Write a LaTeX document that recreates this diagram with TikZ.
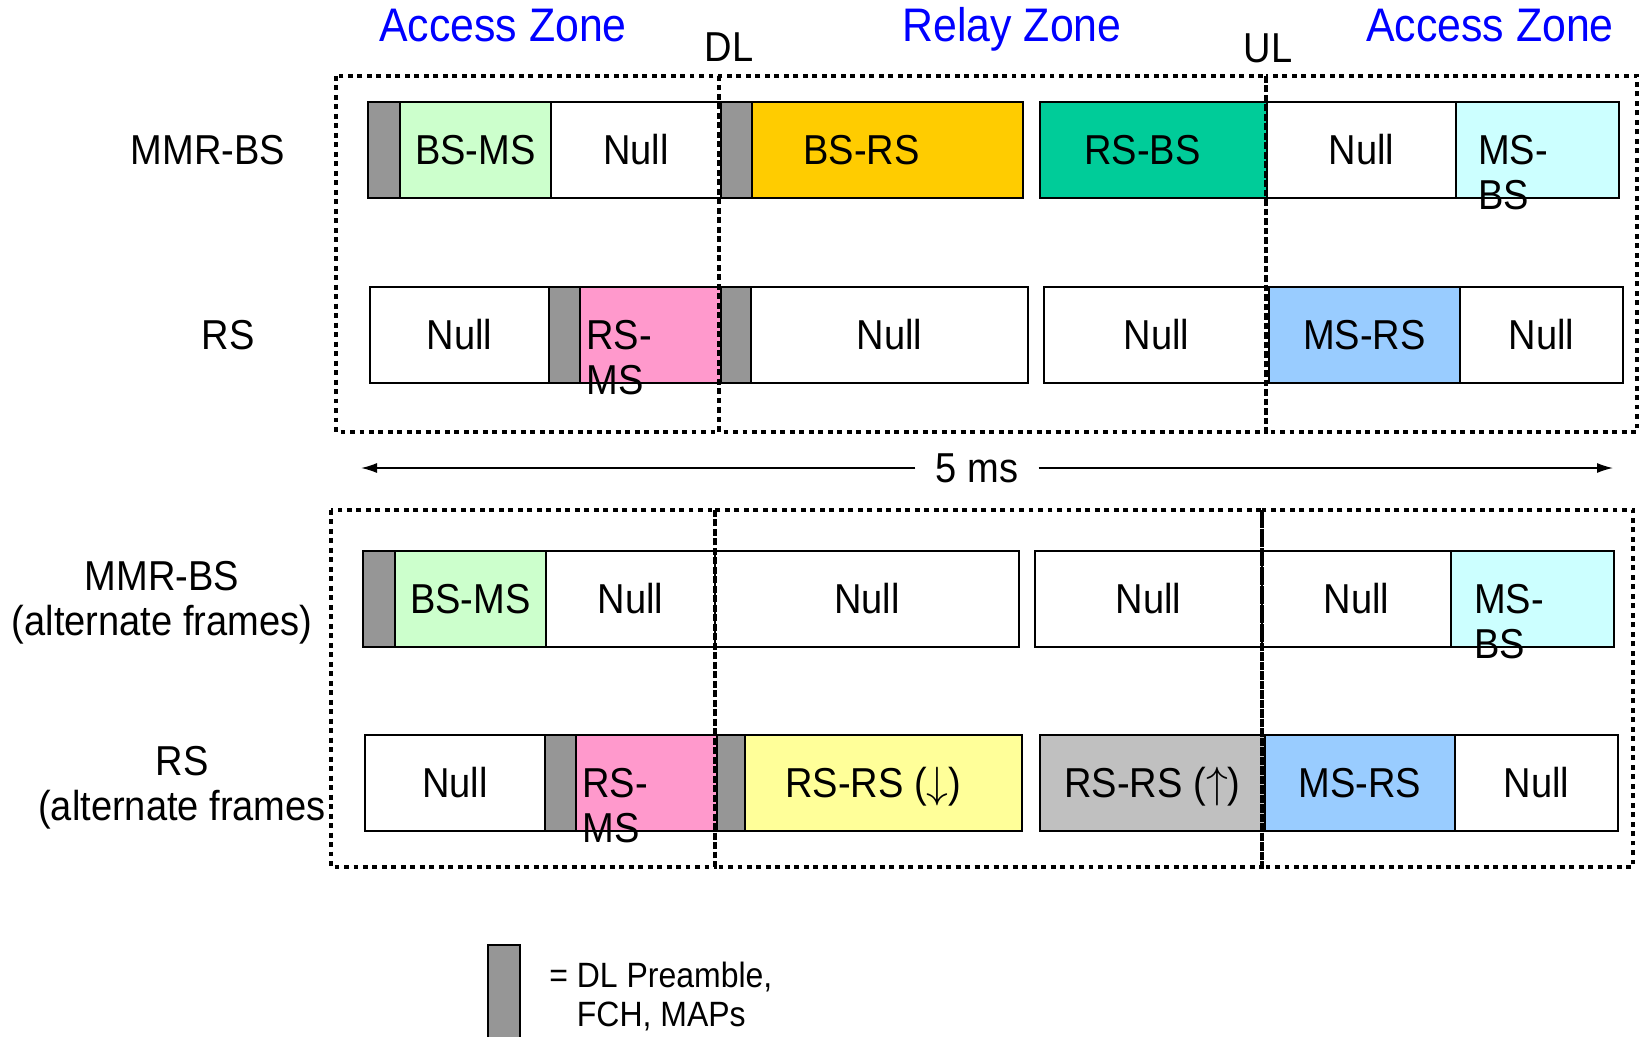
\documentclass[tikz,border=0pt]{standalone}
\usepackage{fontspec}
\setmainfont{Liberation Sans}[FakeStretch=0.91]
\usetikzlibrary{positioning, arrows.meta}
\definecolor{preamb}{RGB}{150,150,150}
\definecolor{bsms}{RGB}{204,255,204}
\definecolor{bsrs}{RGB}{255,204,0}
\definecolor{rsbs}{RGB}{0,204,153}
\definecolor{msbs}{RGB}{204,255,255}
\definecolor{rsms}{RGB}{255,153,204}
\definecolor{msrs}{RGB}{153,204,255}
\definecolor{rsdown}{RGB}{255,255,153}
\definecolor{rsup}{RGB}{192,192,192}
\newcommand{\framefont}{\fontsize{23.8}{25.5}\selectfont}
\newcommand{\titlefont}{\fontsize{26.8}{30}\selectfont}
\newcommand{\keyfont}{\fontsize{20}{22}\selectfont}
\tikzset{
  slot/.style={draw, line width=0.8pt, inner sep=0pt, outer sep=0pt, minimum height=1.92cm, anchor=north west},
  pre/.style={slot, fill=preamb, minimum width=#1},
  split/.style={align=left, inner sep=0pt, anchor=north west},
  zone/.style={line width=2.8pt, dash pattern=on 2.8pt off 2.6pt},
  zonetitle/.style={text=blue, font=\titlefont, anchor=base},
  dir/.style={anchor=base}
}

\begin{document}
\begin{tikzpicture}[x=0.02cm, y=-0.02cm, every node/.style={font=\framefont}]
\useasboundingbox (0,0) rectangle (1639,1037);

% zone titles
\node[zonetitle] (acc1) at (503,42) {Access Zone};
\node[zonetitle] (relay) at (1012,42) {Relay Zone};
\node[zonetitle] (acc2) at (1490,42) {Access Zone};
\node[dir] (dl) at (729,62) {DL};
\node[dir] (ul) at (1268,63) {UL};

% row labels
\node (lbl1) at (208,150) {MMR-BS};
\node (lbl2) at (228,335) {RS};
\node[align=center] (lbl3) at (162,603) {MMR-BS\\(alternate frames)};
\node[align=center] (lbl4) at (182,788) {RS\\(alternate frames};

% MMR-BS
\node[pre=0.64cm] (p1) at (368,102) {};
\node[slot, fill=bsms, minimum width=3.02cm, right=0pt of p1] (bsms1) {BS-MS};
\node[slot, minimum width=3.40cm, right=0pt of bsms1] (null1) {Null};
\node[pre=0.62cm, right=0pt of null1] (p2) {};
\node[slot, fill=bsrs, minimum width=5.42cm, right=0pt of p2,
      label={[name=bsrstxt, xshift=-0.52cm]center:BS-RS}] (bsrs) {};
\node[slot, fill=rsbs, minimum width=4.54cm,
      label={[name=rsbstxt, xshift=-0.22cm]center:RS-BS}] (rsbs) at (1040,102) {};
\node[slot, minimum width=3.78cm, right=0pt of rsbs] (null2) {Null};
\node[slot, fill=msbs, minimum width=3.26cm, right=0pt of null2] (msbs1) {};
\node[split] (msbs1txt) at ([xshift=0.44cm, yshift=0.3cm]msbs1.west) {MS-\\BS};

% RS
\node[slot, minimum width=3.58cm] (null3) at (370,287) {Null};
\node[pre=0.62cm, right=0pt of null3] (p3) {};
\node[slot, fill=rsms, minimum width=2.82cm, right=0pt of p3] (rsms1) {};
\node[pre=0.60cm, right=0pt of rsms1] (p4) {};
\node[slot, minimum width=5.54cm, right=0pt of p4] (null4) {Null};
\node[split] (rsms1txt) at ([xshift=0.12cm, yshift=0.3cm]rsms1.west) {RS-\\MS};
\node[slot, minimum width=4.50cm] (null5) at (1044,287) {Null};
\node[slot, fill=msrs, minimum width=3.82cm, right=0pt of null5] (msrs1) {MS-RS};
\node[slot, minimum width=3.26cm, right=0pt of msrs1] (null6) {Null};

% MMR-BS, alternate frames
\node[pre=0.64cm] (p5) at (363,551) {};
\node[slot, fill=bsms, minimum width=3.02cm, right=0pt of p5] (bsms2) {BS-MS};
\node[slot, minimum width=3.38cm, right=0pt of bsms2] (null7) {Null};
\node[slot, minimum width=6.08cm, right=0pt of null7] (null8) {Null};
\node[slot, minimum width=4.54cm] (null9) at (1035,551) {Null};
\node[slot, minimum width=3.78cm, right=0pt of null9] (null10) {Null};
\node[slot, fill=msbs, minimum width=3.26cm, right=0pt of null10] (msbs2) {};
\node[split] (msbs2txt) at ([xshift=0.46cm, yshift=0.3cm]msbs2.west) {MS-\\BS};

% RS, alternate frames
\node[slot, minimum width=3.60cm] (null11) at (365,735) {Null};
\node[pre=0.62cm, right=0pt of null11] (p6) {};
\node[slot, fill=rsms, minimum width=2.82cm, right=0pt of p6] (rsms2) {};
\node[pre=0.56cm, right=0pt of rsms2] (p7) {};
\node[slot, fill=rsdown, minimum width=5.54cm, right=0pt of p7,
      label={[name=rsrs1txt, xshift=-0.2cm, yshift=-0.08cm]center:RS-RS ($\downarrow$)}] (rsrs1) {};
\node[split] (rsms2txt) at ([xshift=0.12cm, yshift=0.3cm]rsms2.west) {RS-\\MS};
\node[slot, fill=rsup, minimum width=4.50cm,
      label={[name=rsrs2txt, yshift=-0.08cm]center:RS-RS ($\uparrow$)}] (rsrs2) at (1040,735) {};
\node[slot, fill=msrs, minimum width=3.80cm, right=0pt of rsrs2] (msrs2) {MS-RS};
\node[slot, minimum width=3.26cm, right=0pt of msrs2] (null12) {Null};

% zone frames
\draw[zone] (336,76) rectangle (719,432);
\draw[zone] (719,76) rectangle (1266,432);
\draw[zone] (1266,76) rectangle (1637,432);
\draw[zone] (331,510) rectangle (715,867);
\draw[zone] (715,510) rectangle (1262,867);
\draw[zone] (1262,510) rectangle (1633,867);

% frame length
\node[fill=white, inner xsep=0.4cm] (span) at (977,468) {5 ms};
\coordinate (spanl) at (361,468);
\coordinate (spanr) at (1613,468);
\draw[line width=0.8pt, -{Latex[length=0.32cm, width=0.2cm]}] (span) -- (spanl);
\draw[line width=0.8pt, -{Latex[length=0.32cm, width=0.2cm]}] (span) -- (spanr);

% key
\node[pre=0.64cm, minimum height=2.2cm] (legkey) at (488,945) {};
\node[split, font=\keyfont] (legtext) at (549,962) {= DL Preamble,\\\phantom{= }FCH, MAPs};
\end{tikzpicture}
\end{document}
